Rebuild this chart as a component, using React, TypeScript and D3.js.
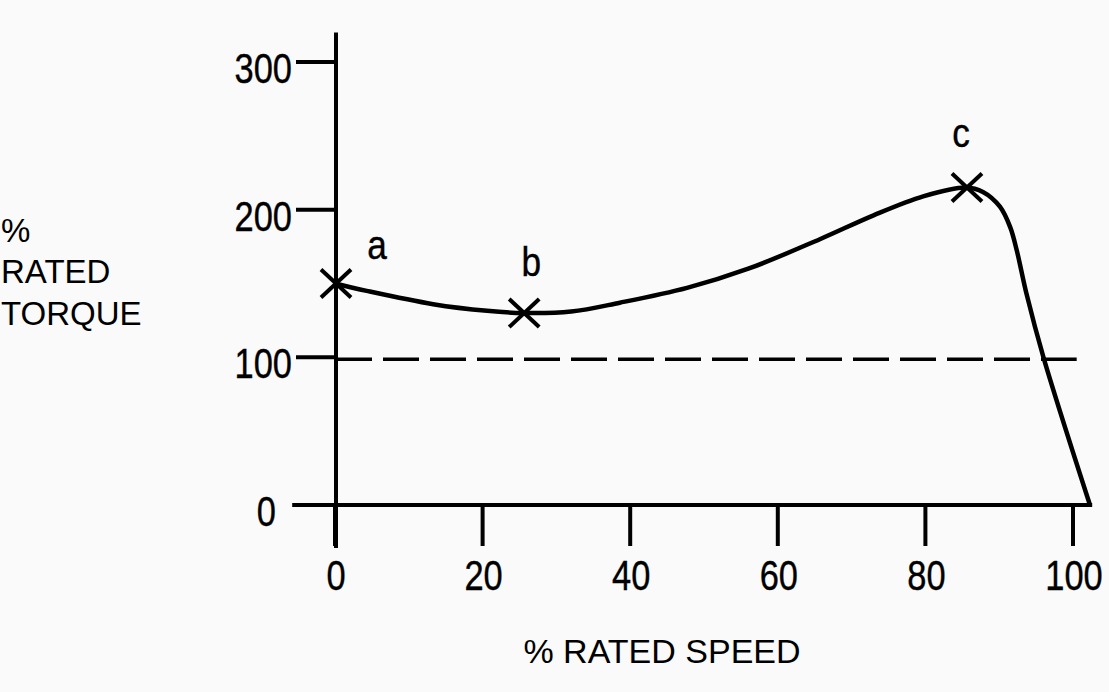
import React from 'react';
import * as d3 from 'd3';

// ---- data ----
const speedTicks = [0, 20, 40, 60, 80, 100];
const torqueTicks = [0, 100, 200, 300];
const curveSpeed = [0, 4.3, 13.3, 20.6, 25.5, 32, 38.6, 47.7, 56, 65.7, 72.9, 79.7, 85.5, 87.8, 90.1, 91.5, 92.4, 93.7, 96, 102.3];
const curveTorque = [150, 145, 136, 131.5, 130, 131, 137, 147, 160, 180, 196, 209, 215, 212, 202, 188, 172, 143, 100, 0];
const markerNames = ['a', 'b', 'c'];
const markerSpeed = [0, 25.5, 85.5];
const markerTorque = [150, 130, 215];
const ratedTorque = 100;
const ratedLineSpeed = [0, 100.5];

// ---- layout ----
const W = 1109;
const H = 692;
const labelOffsets = [
  [41, -25],
  [7, -37],
  [-6, -41],
];

const SANS = "'Liberation Sans', Arial, Helvetica, sans-serif";

function NarrowText(props: { x: number; y: number; anchor: string; size: number; sx: number; children: React.ReactNode }) {
  return (
    <text
      transform={`translate(${props.x},${props.y}) scale(${props.sx},1)`}
      textAnchor={props.anchor}
      fontFamily={SANS}
      fontSize={props.size}
      fill="#000"
      stroke="#000"
      strokeWidth={0.4}
    >
      {props.children}
    </text>
  );
}

export default function App() {
  const x = d3.scaleLinear().domain([0, 100]).range([335, 1073]);
  const y = d3.scaleLinear().domain([0, 300]).range([505, 62]);

  const pts: [number, number][] = curveSpeed.map((s, i) => [s, curveTorque[i]]);
  const line = d3
    .line<[number, number]>()
    .x((d) => x(d[0]))
    .y((d) => y(d[1]))
    .curve(d3.curveCatmullRom.alpha(0.5));

  const ax = x(0) + 1;
  const ay = y(0);
  const stroke = '#000';

  return (
    <div style={{ position: 'absolute', left: 0, top: 0, width: W, height: H }}>
      <svg width={W} height={H} style={{ display: 'block', background: '#fafafa' }}>
        {/* axes */}
        <line x1={ax} x2={ax} y1={y(320)} y2={ay + 43} stroke={stroke} strokeWidth={4} />
        <line x1={x(-5.8)} x2={x(102.6)} y1={ay} y2={ay} stroke={stroke} strokeWidth={4} />

        {/* y ticks */}
        {torqueTicks.map((t) => (
          <g key={'yt' + t}>
            <line x1={ax - 40} x2={ax} y1={y(t)} y2={y(t)} stroke={stroke} strokeWidth={4} />
            <NarrowText x={t === 0 ? 276 : 292} y={y(t) + 21} anchor="end" size={42} sx={0.82}>
              {t}
            </NarrowText>
          </g>
        ))}

        {/* x ticks */}
        {speedTicks.map((s) => (
          <g key={'xt' + s}>
            <line x1={x(s)} x2={x(s)} y1={ay} y2={ay + 41} stroke={stroke} strokeWidth={4} />
            <NarrowText x={x(s) + 1} y={590} anchor="middle" size={42} sx={0.82}>
              {s}
            </NarrowText>
          </g>
        ))}

        {/* rated torque dashed line */}
        <line
          x1={x(ratedLineSpeed[0]) + 1}
          x2={x(ratedLineSpeed[1])}
          y1={y(ratedTorque) + 2}
          y2={y(ratedTorque) + 2}
          stroke={stroke}
          strokeWidth={3.5}
          strokeDasharray="36 11"
        />

        {/* torque curve */}
        <path d={line(pts) ?? ''} fill="none" stroke={stroke} strokeWidth={4.5} strokeLinejoin="round" />

        {/* markers */}
        {markerNames.map((n, i) => {
          const cx = x(markerSpeed[i]) + 1;
          const cy = y(markerTorque[i]);
          return (
            <g key={n}>
              <line x1={cx - 15} x2={cx + 15} y1={cy - 14} y2={cy + 14} stroke={stroke} strokeWidth={4} />
              <line x1={cx - 15} x2={cx + 15} y1={cy + 14} y2={cy - 14} stroke={stroke} strokeWidth={4} />
              <NarrowText x={cx + labelOffsets[i][0]} y={cy + labelOffsets[i][1]} anchor="middle" size={40} sx={0.88}>
                {n}
              </NarrowText>
            </g>
          );
        })}

        {/* axis titles */}
        <text fontFamily={SANS} fontSize={33} fill={stroke}>
          <tspan x={1} y={242}>%</tspan>
          <tspan x={1} y={283}>RATED</tspan>
          <tspan x={1} y={325}>TORQUE</tspan>
        </text>
        <text x={662} y={663} textAnchor="middle" fontFamily={SANS} fontSize={34} fill={stroke}>
          % RATED SPEED
        </text>
      </svg>
    </div>
  );
}
